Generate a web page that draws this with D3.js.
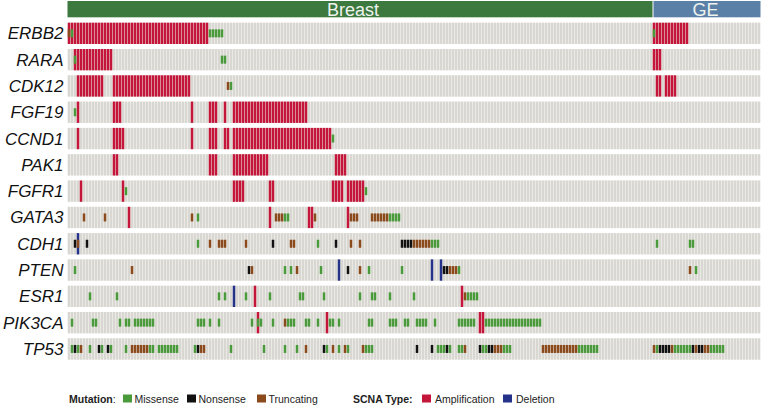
<!DOCTYPE html>
<html>
<head>
<meta charset="utf-8">
<script src="https://cdn.jsdelivr.net/npm/d3@7"></script>
<style>
  body { margin: 0; background: #fff; }
  text { font-family: "Liberation Sans", Arial, Helvetica, sans-serif; }
</style>
</head>
<body>
<div id="chart"></div>
<script>
// genes (rows) and cohorts (column groups)
var genes = ["ERBB2", "RARA", "CDK12", "FGF19", "CCND1", "PAK1", "FGFR1",
             "GATA3", "CDH1", "PTEN", "ESR1", "PIK3CA", "TP53"];
var cohorts = ["Breast", "GE"];
var cohortSizes = [195, 36];

// events per gene, as [first column, last column] runs
var amplification = [
  [[0, 46], [195, 206]],
  [[2, 14], [195, 197]],
  [[3, 11], [15, 40], [196, 197], [199, 202]],
  [[3, 3], [15, 17], [41, 41], [47, 49], [52, 52], [55, 79]],
  [[3, 3], [15, 18], [41, 41], [47, 49], [52, 53], [55, 87]],
  [[15, 16], [47, 49], [55, 66], [89, 92]],
  [[4, 4], [18, 18], [55, 58], [67, 68], [88, 91], [93, 98]],
  [[20, 20], [67, 67], [80, 81], [93, 93]],
  [],
  [],
  [[62, 62], [131, 131]],
  [[63, 63], [86, 86], [137, 138]],
  []
];

var deletion = [
  [], [], [], [], [], [], [], [],
  [[3, 3]],
  [[90, 90], [121, 121], [124, 124]],
  [[55, 55]],
  [],
  []
];

var missense = [
  [[1, 1], [47, 51], [195, 195]],
  [[2, 2], [51, 52]],
  [[54, 54]],
  [[2, 2]],
  [[88, 88]],
  [],
  [[19, 19], [99, 99]],
  [[43, 43], [72, 73], [107, 110]],
  [[43, 43], [83, 83], [121, 123], [196, 196], [207, 208]],
  [[2, 2], [72, 72], [74, 74], [84, 84], [100, 100], [111, 111], [130, 130], [209, 209]],
  [[7, 7], [16, 16], [50, 50], [52, 52], [59, 59], [67, 67], [77, 78], [85, 85],
   [97, 97], [101, 102], [107, 107], [115, 115], [133, 136]],
  [[1, 1], [8, 9], [17, 17], [19, 20], [22, 28], [43, 45], [47, 47], [50, 50],
   [61, 61], [63, 64], [68, 68], [73, 75], [79, 79], [80, 80], [83, 83], [87, 88],
   [90, 90], [100, 101], [107, 109], [112, 113], [116, 119], [122, 122], [130, 135],
   [139, 157]],
  [[1, 1], [3, 3], [7, 7], [11, 11], [14, 14], [19, 19], [27, 28], [30, 36],
   [42, 42], [54, 54], [65, 65], [72, 72], [76, 76], [86, 86], [90, 90], [93, 93],
   [99, 101], [123, 125], [127, 127], [130, 131], [138, 139], [145, 147], [170, 176],
   [196, 196], [202, 207], [214, 218]]
];

var nonsense = [
  [], [], [], [], [], [], [], [],
  [[2, 2], [6, 6], [68, 68], [89, 89], [111, 114]],
  [[60, 60], [93, 93], [125, 126]],
  [],
  [],
  [[2, 2], [10, 10], [13, 13], [43, 43], [85, 85], [116, 116], [121, 121], [126, 126],
   [137, 137], [140, 141], [197, 200], [208, 208], [210, 211]]
];

var truncating = [
  [[0, 0]],
  [],
  [[53, 53]],
  [], [], [], [],
  [[5, 5], [12, 12], [41, 41], [69, 71], [82, 82], [94, 96], [101, 106]],
  [[3, 3], [47, 47], [50, 52], [59, 59], [74, 75], [94, 94], [97, 97], [115, 120]],
  [[21, 21], [61, 61], [76, 76], [97, 97], [127, 129], [207, 207]],
  [[132, 132]],
  [[72, 72]],
  [[4, 4], [21, 26], [44, 45], [79, 79], [88, 88], [92, 92], [98, 98], [132, 132],
   [142, 144], [158, 169], [195, 195], [201, 201], [209, 209], [212, 213]]
];

var mutationTypes = ["Missense", "Nonsense", "Truncating"];
var scnaTypes = ["Amplification", "Deletion"];

// colours
var colors = {
  Missense: "#4a9a3c",
  Nonsense: "#111111",
  Truncating: "#8a4a1c",
  Amplification: "#c3163a",
  Deletion: "#25328a"
};
var cohortColors = ["#3b793e", "#5a80a7"];

var svgWidth = 762;
var svgHeight = 406;

var svg = d3.select("#chart")
  .append("svg")
  .attr("width", svgWidth)
  .attr("height", svgHeight);

var nCols = d3.sum(cohortSizes);

// scales
var xScale = d3.scaleBand()
  .domain(d3.range(nCols))
  .range([67.5, 67.5 + nCols * 3])
  .paddingInner(0.3)
  .paddingOuter(0.15);

var yScale = d3.scaleBand()
  .domain(genes)
  .range([22.7, 359.6])
  .paddingInner(0.19);

var step = xScale.step();
var x0 = 67.5;

// cohort header
var starts = [0];
cohortSizes.forEach(function(s, i) { starts.push(starts[i] + s); });

var header = svg.append("g");
header.selectAll("rect")
  .data(cohorts)
  .enter()
  .append("rect")
  .attr("x", (d, i) => x0 + starts[i] * step + (i ? 1 : 0))
  .attr("y", 1)
  .attr("width", (d, i) => cohortSizes[i] * step - (i ? 1 : 0))
  .attr("height", 16.3)
  .attr("fill", (d, i) => cohortColors[i]);

header.selectAll("text")
  .data(cohorts)
  .enter()
  .append("text")
  .attr("x", (d, i) => x0 + (starts[i] + cohortSizes[i] / 2) * step - (i ? 1 : 7))
  .attr("y", 15.8)
  .attr("text-anchor", "middle")
  .attr("font-size", "18px")
  .attr("fill", "#eef2ee")
  .text(d => d);

// row backgrounds
var rows = svg.append("g");
rows.selectAll("rect")
  .data(genes)
  .enter()
  .append("rect")
  .attr("x", x0)
  .attr("y", d => yScale(d))
  .attr("width", nCols * step)
  .attr("height", yScale.bandwidth())
  .attr("fill", "#ecebe7");

// grey cells
var cells = [];
genes.forEach(function(g) {
  d3.range(nCols).forEach(function(c) { cells.push({ gene: g, col: c }); });
});

svg.append("g")
  .selectAll("rect")
  .data(cells)
  .enter()
  .append("rect")
  .attr("x", d => xScale(d.col))
  .attr("y", d => yScale(d.gene))
  .attr("width", xScale.bandwidth())
  .attr("height", yScale.bandwidth())
  .attr("fill", "#d9d7d1");

// expand runs into single cells
function expand(runs, type) {
  var out = [];
  runs.forEach(function(list, gi) {
    list.forEach(function(r) {
      for (var c = r[0]; c <= r[1]; c++) out.push({ gene: genes[gi], col: c, type: type });
    });
  });
  return out;
}

var scna = expand(amplification, "Amplification").concat(expand(deletion, "Deletion"));
var muts = expand(missense, "Missense")
  .concat(expand(nonsense, "Nonsense"))
  .concat(expand(truncating, "Truncating"));

svg.append("g")
  .selectAll("rect")
  .data(scna)
  .enter()
  .append("rect")
  .attr("x", d => xScale(d.col) - 0.2)
  .attr("y", d => yScale(d.gene))
  .attr("width", xScale.bandwidth() + 0.4)
  .attr("height", yScale.bandwidth())
  .attr("fill", d => colors[d.type]);

var mutH = 8;
svg.append("g")
  .selectAll("rect")
  .data(muts)
  .enter()
  .append("rect")
  .attr("x", d => xScale(d.col) - 0.2)
  .attr("y", d => yScale(d.gene) + yScale.bandwidth() / 2 - mutH / 2)
  .attr("width", xScale.bandwidth() + 0.4)
  .attr("height", mutH)
  .attr("fill", d => colors[d.type]);

// gene labels
svg.append("g")
  .selectAll("text")
  .data(genes)
  .enter()
  .append("text")
  .attr("x", 63.5)
  .attr("y", d => yScale(d) + yScale.bandwidth() / 2 + 6)
  .attr("text-anchor", "end")
  .attr("font-size", "17px")
  .attr("font-style", "italic")
  .attr("fill", "#111")
  .text(d => d);

// legend
var legend = svg.append("g").attr("font-size", "10.5px").attr("fill", "#222");
var legY = 403;

var mutLabel = legend.append("text").attr("x", 69).attr("y", legY);
mutLabel.append("tspan").attr("font-weight", "bold").text("Mutation");
mutLabel.append("tspan").text(":");

legend.append("text")
  .attr("x", 353).attr("y", legY)
  .attr("font-weight", "bold")
  .text("SCNA Type:");

var legendItems = [
  { name: mutationTypes[0], x: 123 },
  { name: mutationTypes[1], x: 187 },
  { name: mutationTypes[2], x: 257 },
  { name: scnaTypes[0], x: 422 },
  { name: scnaTypes[1], x: 503 }
];

legend.selectAll("rect")
  .data(legendItems)
  .enter()
  .append("rect")
  .attr("x", d => d.x)
  .attr("y", 394.5)
  .attr("width", 9)
  .attr("height", 8)
  .attr("fill", d => colors[d.name]);

legend.selectAll("text.item")
  .data(legendItems)
  .enter()
  .append("text")
  .attr("class", "item")
  .attr("x", (d, i) => d.x + (i > 2 ? 13 : 11.5))
  .attr("y", legY)
  .text(d => d.name);
</script>
</body>
</html>
